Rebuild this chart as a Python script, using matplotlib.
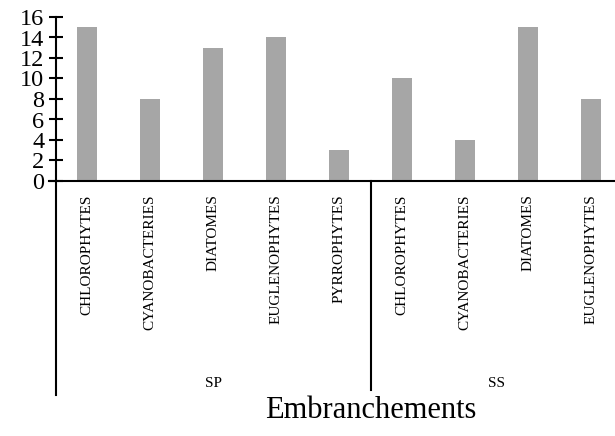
import matplotlib.pyplot as plt
from matplotlib.lines import Line2D

plt.rcParams['font.family'] = ['Liberation Serif', 'DejaVu Serif']

categories = ['CHLOROPHYTES', 'CYANOBACTERIES', 'DIATOMES', 'EUGLENOPHYTES', 'PYRROPHYTES',
              'CHLOROPHYTES', 'CYANOBACTERIES', 'DIATOMES', 'EUGLENOPHYTES']
values = [15, 8, 13, 14, 3, 10, 4, 15, 8]
groups = ['SP', 'SS']
group_sizes = [5, 4]

fig = plt.figure(figsize=(6.15, 4.36), dpi=100)
# axes runs a bit past the right edge, like the original
ax = fig.add_axes([55.5/615, (436-181)/436, 567/615, 164/436])

x = list(range(len(values)))
ax.bar(x, values, width=0.32, color='#A6A6A6')
ax.set_xlim(-0.5, len(values) - 0.5)
ax.set_ylim(0, 16)
ax.set_yticks(range(0, 17, 2))
ax.tick_params(axis='y', direction='inout', length=10, width=1.5, labelsize=17.5, pad=3)
ax.set_xticks(x, categories, rotation=90, fontsize=11, va='top')
ax.tick_params(axis='x', length=0, pad=9.5)

for s in ['top', 'right', 'bottom']:
    ax.spines[s].set_visible(False)
ax.spines['left'].set_linewidth(1.5)

# x axis line, a bit to the left of the y axis
ax.add_line(Line2D([-0.61, len(values)], [0, 0], color='black', lw=1.5, clip_on=False))

# vertical lines of the category axis
yb = (181 - 395) / 164
ax.add_line(Line2D([0, 0], [0, yb], transform=ax.transAxes, color='black', lw=1.5, clip_on=False))
tr = ax.get_xaxis_transform()
start = 0
for g, n in zip(groups, group_sizes):
    mid = start + (n - 1) / 2
    ax.text(mid, (181 - 383) / 164, g, transform=tr, ha='center', va='center', fontsize=11)
    start += n
    if start < len(values):
        ax.add_line(Line2D([start - 0.5, start - 0.5], [0, (181 - 390) / 164], transform=tr,
                           color='black', lw=1.5, clip_on=False))

fig.text(371/615, 1 - 410/436, 'Embranchements', ha='center', va='center', fontsize=22)

fig.savefig('out.png', dpi=100)
